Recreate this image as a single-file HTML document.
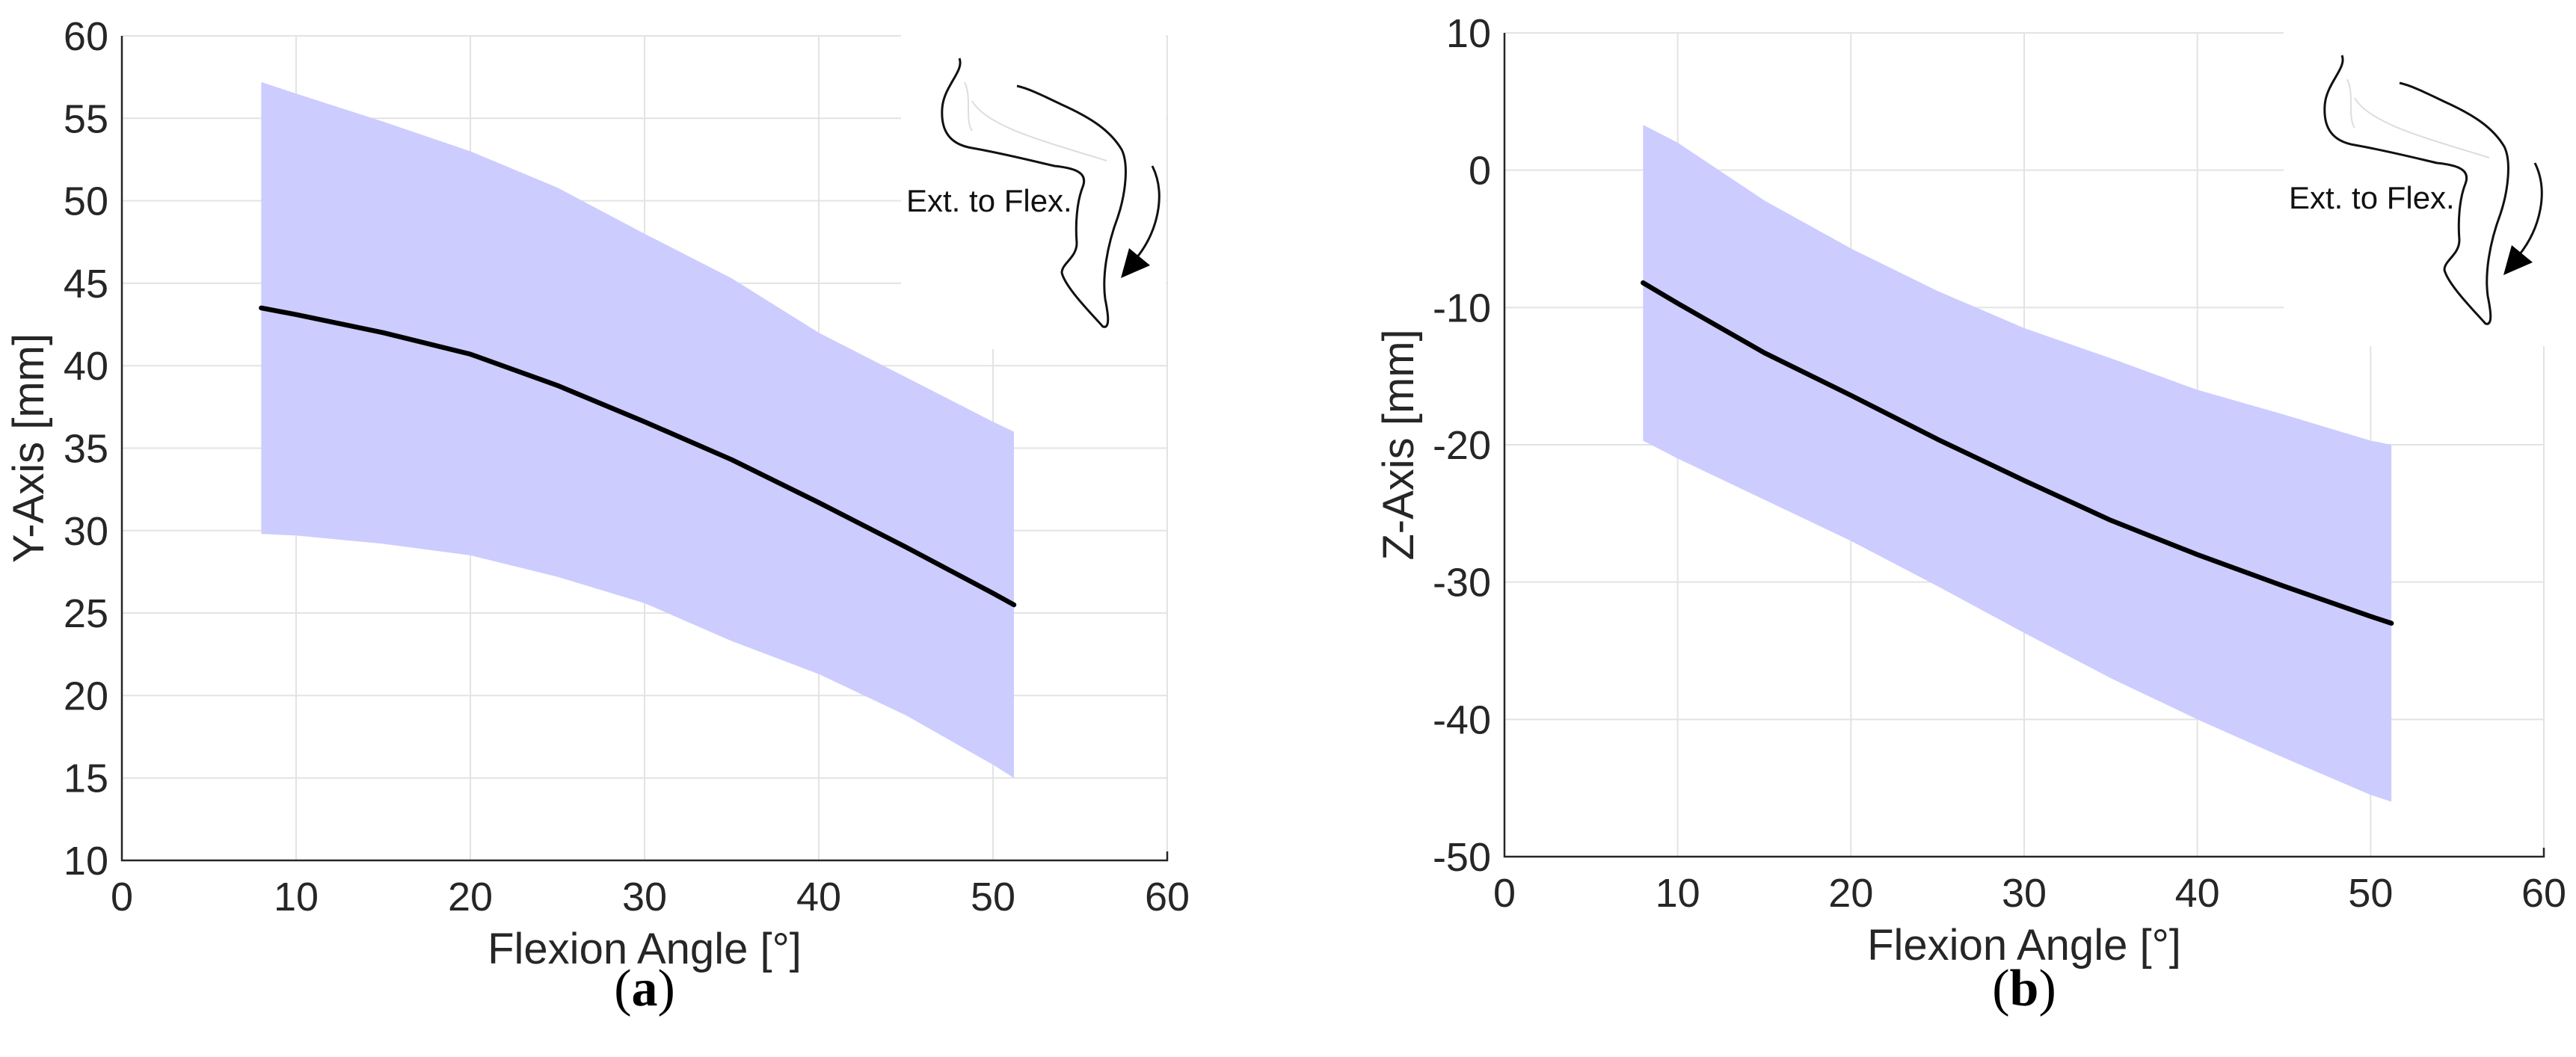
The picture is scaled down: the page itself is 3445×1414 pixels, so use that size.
<!DOCTYPE html>
<html><head><meta charset="utf-8"><style>
html,body{margin:0;padding:0;background:#fff;}
svg{display:block;font-family:"Liberation Sans",sans-serif;}
</style></head><body>
<svg id="fig" width="3445" height="1414" viewBox="0 0 3445 1414" xmlns="http://www.w3.org/2000/svg"></svg>
<script>
const xs = [8, 10, 15, 20, 25, 30, 35, 40, 45, 50, 51.2];
const yMean = [43.5, 43.1, 42, 40.7, 38.8, 36.6, 34.3, 31.7, 29, 26.2, 25.5];
const yUpper = [57.2, 56.5, 54.8, 53, 50.8, 48, 45.3, 42, 39.3, 36.6, 36];
const yLower = [29.8, 29.7, 29.2, 28.5, 27.2, 25.6, 23.3, 21.3, 18.8, 15.8, 15];
const zMean = [-8.2, -9.7, -13.3, -16.4, -19.6, -22.6, -25.5, -28, -30.3, -32.5, -33];
const zUpper = [3.3, 2, -2.2, -5.7, -8.8, -11.5, -13.7, -16, -17.8, -19.7, -20];
const zLower = [-19.7, -21, -24, -27, -30.3, -33.7, -37, -40, -42.8, -45.5, -46];
const xTicks = [0, 10, 20, 30, 40, 50, 60];
const yTicks = [10, 15, 20, 25, 30, 35, 40, 45, 50, 55, 60];
const zTicks = [-50, -40, -30, -20, -10, 0, 10];

const NS = "http://www.w3.org/2000/svg";
const svg = document.getElementById('fig');
function mk(tag, attrs, parent, text) {
  const e = document.createElementNS(NS, tag);
  for (const k in attrs) e.setAttribute(k, attrs[k]);
  if (text !== undefined) e.textContent = text;
  (parent || svg).appendChild(e);
  return e;
}

function panel(cfg) {
  const g = mk('g', {});
  
  
  const sx = v => cfg.x0 + (v - 0) / 60 * (cfg.x1 - cfg.x0);
  const sy = v => cfg.yb + (v - cfg.ymin) / (cfg.ymax - cfg.ymin) * (cfg.yt - cfg.yb);
  xTicks.forEach(t => {
    const l = mk('line', {x1: sx(t), x2: sx(t), y1: cfg.yt, y2: cfg.yb, stroke: '#e3e3e3', 'stroke-width': 2}, g);
    
    
  });
  cfg.ticks.forEach(t => {
    const l = mk('line', {x1: cfg.x0, x2: cfg.x1, y1: sy(t), y2: sy(t), stroke: '#e3e3e3', 'stroke-width': 2}, g);
    
    
  });
  let d = '';
  xs.forEach((x, i) => { d += (i ? 'L' : 'M') + sx(x) + ',' + sy(cfg.upper[i]); });
  for (let i = xs.length - 1; i >= 0; i--) d += 'L' + sx(xs[i]) + ',' + sy(cfg.lower[i]);
  const band = mk('path', {d: d + 'Z', fill: '#ccccff'}, g);
  
  
  let pts = xs.map((x, i) => sx(x) + ',' + sy(cfg.mean[i])).join(' ');
  const ln = mk('polyline', {points: pts, fill: 'none', stroke: '#000', 'stroke-width': 6.5, 'stroke-linejoin': 'round', 'stroke-linecap': 'round'}, g);
  
  
  const ins = mk('g', {transform: 'translate(' + (cfg.x0 - 163) + ',' + (cfg.yt - 48) + ')'}, g);
  
  
  mk('rect', {x: 1205, y: 40, width: 354, height: 427, fill: '#fff'}, ins);
  mk('path', {d: 'M1283,78 C1290,95 1262,115 1260,145 C1258,175 1270,193 1300,198 C1340,205 1380,215 1410,222 C1440,225 1455,232 1448,250 C1440,270 1438,300 1440,325 C1440,345 1420,352 1420,365 C1425,385 1460,420 1475,437 C1485,440 1482,420 1478,400 C1474,370 1480,330 1495,290 C1505,260 1510,220 1500,200 C1485,175 1460,158 1420,140 C1395,128 1375,118 1360,115', fill: 'none', stroke: '#111', 'stroke-width': 3}, ins);
  mk('path', {d: 'M1300,135 C1320,170 1400,190 1480,215 M1290,110 C1300,130 1290,160 1300,175', fill: 'none', stroke: '#ddd', 'stroke-width': 2}, ins);
  mk('path', {d: 'M1541,222 C1560,260 1548,310 1520,345', fill: 'none', stroke: '#111', 'stroke-width': 3}, ins);
  mk('polygon', {points: '1510,332 1538,355 1499,372', fill: '#000'}, ins);
  const it = mk('text', {x: 1212, y: 283, 'font-size': 42, fill: '#111'}, ins, 'Ext. to Flex.');
  
  
  const ax = mk('path', {d: 'M' + cfg.x0 + ',' + cfg.yt + ' L' + cfg.x0 + ',' + cfg.yb + ' L' + cfg.x1 + ',' + cfg.yb + ' L' + cfg.x1 + ',' + (cfg.yb - 12), fill: 'none', stroke: '#262626', 'stroke-width': 2.5}, g);
  
  
  xTicks.forEach(t => {
    const tx = mk('text', {x: sx(t), y: cfg.yb + 67, 'font-size': 54, 'text-anchor': 'middle', fill: '#262626'}, g, String(t));
    
    
  });
  cfg.ticks.forEach(t => {
    const tx = mk('text', {x: cfg.x0 - 18, y: sy(t) + 19, 'font-size': 54, 'text-anchor': 'end', fill: '#262626'}, g, String(t));
    
    
  });
  const xt = mk('text', {x: (cfg.x0 + cfg.x1) / 2, y: cfg.yb + 138, 'font-size': 58, 'text-anchor': 'middle', fill: '#262626'}, g, 'Flexion Angle [°]');
  
  
  const yc = (cfg.yt + cfg.yb) / 2;
  const yt = mk('text', {x: cfg.ylx, y: yc, 'font-size': 58, 'text-anchor': 'middle', fill: '#262626', transform: 'rotate(-90 ' + cfg.ylx + ' ' + yc + ')'}, g, cfg.ylabel);
  
  
  const cap = mk('text', {x: (cfg.x0 + cfg.x1) / 2, y: 1345, 'font-size': 70, 'text-anchor': 'middle', fill: '#000', 'font-family': '"Liberation Serif",serif'}, g);
  
  
  mk('tspan', {}, cap, '(');
  mk('tspan', {'font-weight': 'bold'}, cap, cfg.letter);
  mk('tspan', {}, cap, ')');
}

panel({name: 'panel-a', x0: 163, x1: 1561, yt: 48, yb: 1151, ymin: 10, ymax: 60, ticks: yTicks,
  upper: yUpper, lower: yLower, mean: yMean, ylabel: 'Y-Axis [mm]', ylx: 58, letter: 'a'});
panel({name: 'panel-b', x0: 2012, x1: 3402, yt: 44, yb: 1146, ymin: -50, ymax: 10, ticks: zTicks,
  upper: zUpper, lower: zLower, mean: zMean, ylabel: 'Z-Axis [mm]', ylx: 1890, letter: 'b'});
</script>
</body></html>
